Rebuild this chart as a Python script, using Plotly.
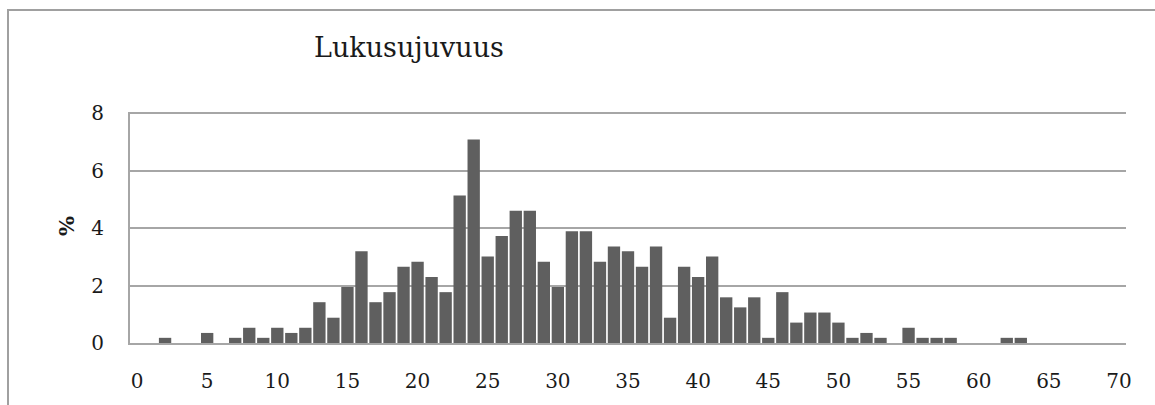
import plotly.graph_objects as go

# Category (score) values 0..70 and percentage of pupils
scores = list(range(0, 71))
percent = [
    0, 0, 0.18, 0, 0, 0.35, 0, 0.18, 0.53, 0.18,      # 0-9
    0.53, 0.35, 0.53, 1.42, 0.88, 1.95, 3.19, 1.42, 1.77, 2.65,  # 10-19
    2.83, 2.30, 1.77, 5.13, 7.08, 3.01, 3.72, 4.60, 4.60, 2.83,  # 20-29
    1.95, 3.89, 3.89, 2.83, 3.36, 3.19, 2.65, 3.36, 0.88, 2.65,  # 30-39
    2.30, 3.01, 1.59, 1.24, 1.59, 0.18, 1.77, 0.71, 1.06, 1.06,  # 40-49
    0.71, 0.18, 0.35, 0.18, 0, 0.53, 0.18, 0.18, 0.18, 0,        # 50-59
    0, 0, 0.18, 0.18, 0, 0, 0, 0, 0, 0,                          # 60-69
    0,                                                            # 70
]
x_ticks = [0, 5, 10, 15, 20, 25, 30, 35, 40, 45, 50, 55, 60, 65, 70]
y_ticks = [0, 2, 4, 6, 8]
title_text = "Lukusujuvuus"
y_title = "%"

W, H = 1155, 405
L, R, T, B = 130, 1126, 113, 346

fig = go.Figure()
fig.add_trace(go.Bar(
    x=scores, y=percent,
    marker=dict(color="#5f5f5f", line=dict(width=0)),
    hoverinfo="x+y",
))

font_family = "DejaVu Serif"

fig.update_layout(
    width=W, height=H,
    margin=dict(l=L, r=W - R, t=T - 1, b=H - B, pad=0),
    paper_bgcolor="white", plot_bgcolor="white",
    bargap=0.12,
    showlegend=False,
    font=dict(family=font_family, color="#1a1a1a"),
    title=dict(
        text=title_text,
        x=409 / W, xanchor="center", xref="container",
        y=1 - 48 / H, yanchor="middle", yref="container",
        font=dict(family=font_family, size=27, color="#1a1a1a"),
    ),
)
fig.update_xaxes(
    range=[-0.5, 70.5],
    tickmode="array", tickvals=x_ticks, ticktext=[str(v) for v in x_ticks],
    showgrid=False, zeroline=False,
    showline=True, linecolor="#a6a6a6", linewidth=2,
    ticks="", tickfont=dict(size=20, family=font_family, color="#1a1a1a"),
    ticklabelstandoff=19,
)
fig.update_yaxes(
    range=[0, 8.04],
    tickmode="array", tickvals=y_ticks, ticktext=[str(v) for v in y_ticks],
    showgrid=True, gridcolor="#a6a6a6", gridwidth=2,
    zeroline=False,
    showline=True, linecolor="#a6a6a6", linewidth=2,
    ticks="", tickfont=dict(size=20, family=font_family, color="#1a1a1a"),
    ticklabelstandoff=20,
)

# y-axis title
fig.add_annotation(
    text="<b>%s</b>" % y_title, textangle=-90,
    xref="paper", yref="paper",
    x=(66 - L) / (R - L), y=(B - 228) / (B - T),
    xanchor="center", yanchor="middle", showarrow=False,
    font=dict(family=font_family, size=21, color="#1a1a1a"),
)

# outer chart-area border (cropped on right and bottom)
fig.add_shape(
    type="rect", xref="paper", yref="paper",
    x0=(8 - L) / (R - L), x1=(W + 20 - L) / (R - L),
    y0=(B - (H + 20)) / (B - T), y1=(B - 10) / (B - T),
    line=dict(color="#a0a0a0", width=2), fillcolor="rgba(0,0,0,0)",
    layer="below",
)

fig.write_html(
    "out.html",
    config={"displayModeBar": False},
    post_script="document.body.style.margin='0';document.body.style.overflow='hidden';",
)
